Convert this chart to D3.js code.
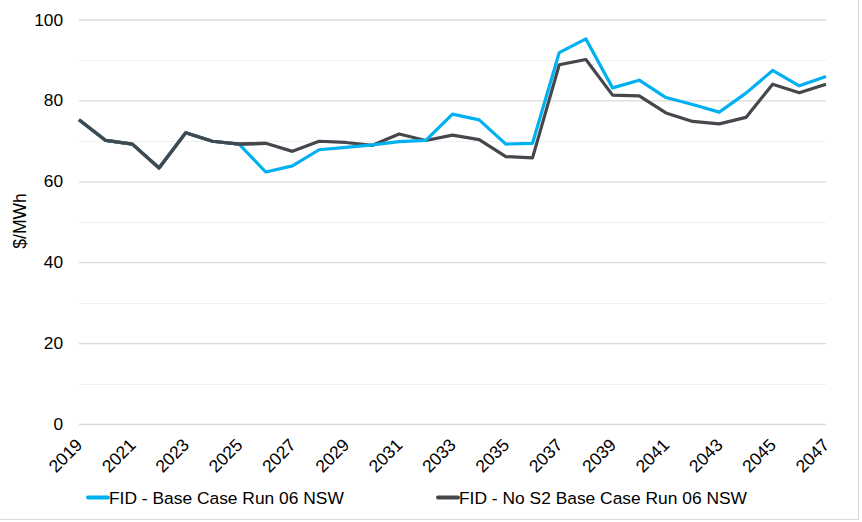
<!DOCTYPE html>
<html><head><meta charset="utf-8">
<script src="https://cdn.jsdelivr.net/npm/d3@7"></script>
<style>
html,body{margin:0;padding:0;background:#fff;}
svg{display:block;font-family:"Liberation Sans",Arial,sans-serif;}
</style></head>
<body><svg id="c" width="862" height="522"></svg>
<script>
const years = d3.range(2019, 2048);
const tickYears = [2019,2021,2023,2025,2027,2029,2031,2033,2035,2037,2039,2041,2043,2045,2047];
const yTicks = [0,20,40,60,80,100];
const seriesNames = ["FID - Base Case Run 06 NSW","FID - No S2 Base Case Run 06 NSW"];
const baseCase = [75.2,70.1,69.2,63.3,72.0,69.9,69.2,62.3,63.8,67.8,68.4,69.0,69.8,70.1,76.6,75.2,69.2,69.4,91.8,95.2,83.1,85.0,80.7,79.0,77.1,81.8,87.4,83.6,85.9];
const noS2Case = [75.2,70.1,69.2,63.3,72.0,69.9,69.2,69.4,67.4,69.9,69.6,68.9,71.7,70.1,71.4,70.3,66.1,65.8,88.8,90.1,81.3,81.1,76.9,74.8,74.2,75.8,84.0,81.9,84.0];
const colors = ["#00b0f0","#44474b"];

const svg = d3.select("#c");
const x = d3.scaleLinear().domain([2019,2047]).range([79,826]);
const y = d3.scaleLinear().domain([0,100]).range([424,19.5]);

// border
svg.append("line").attr("x1",858.5).attr("x2",858.5).attr("y1",0).attr("y2",519.5).attr("stroke","#d9d9d9");
svg.append("line").attr("x1",0).attr("x2",858.5).attr("y1",519.5).attr("y2",519.5).attr("stroke","#d9d9d9");

// minor gridlines
svg.append("g").selectAll("line").data(d3.range(10,100,20)).join("line")
  .attr("x1",79).attr("x2",826).attr("y1",d=>Math.round(y(d))+0.5).attr("y2",d=>Math.round(y(d))+0.5)
  .attr("stroke","#efefef").attr("stroke-width",1);

// y axis with major gridlines
const yAxis = svg.append("g").attr("transform","translate(79,0)")
  .call(d3.axisLeft(y).tickValues(yTicks).tickSize(-747).tickPadding(16).tickFormat(d3.format("d")));
yAxis.select(".domain").remove();
yAxis.selectAll(".tick line").attr("stroke","#d9d9d9").attr("stroke-width",1.3);
yAxis.selectAll(".tick text").attr("font-size",17.3).attr("fill","#000").attr("font-family","Liberation Sans, Arial, sans-serif");

// x axis labels
const xAxis = svg.append("g").attr("transform","translate(0,424)")
  .call(d3.axisBottom(x).tickValues(tickYears).tickSize(0).tickFormat(d3.format("d")));
xAxis.select(".domain").remove();
xAxis.selectAll(".tick text")
  .attr("font-size",17.5).attr("fill","#000").attr("font-family","Liberation Sans, Arial, sans-serif")
  .attr("text-anchor","end").attr("dy",null).attr("y",0)
  .attr("transform","translate(4,22) rotate(-45)");

// y title
svg.append("text").attr("transform","translate(26,221) rotate(-90)")
  .attr("text-anchor","middle").attr("font-size",17.5).attr("fill","#000").text("$/MWh");

// lines
const line = d3.line().x((d,i)=>x(years[i])).y(d=>y(d));
svg.append("path").datum(noS2Case).attr("d",line).attr("fill","none")
  .attr("stroke",colors[1]).attr("stroke-width",3.2).attr("stroke-linejoin","round");
svg.append("path").datum(baseCase).attr("d",line).attr("fill","none")
  .attr("stroke",colors[0]).attr("stroke-width",3.2).attr("stroke-linejoin","round");
// dark drawn on top where the two series coincide
svg.append("path").datum(noS2Case.slice(0,8)).attr("d",line).attr("fill","none")
  .attr("stroke",colors[1]).attr("stroke-width",3.2).attr("stroke-linejoin","round");

// legend
const legX = [88,438];
seriesNames.forEach((n,i)=>{
  svg.append("line").attr("x1",legX[i]).attr("x2",legX[i]+20).attr("y1",497.5).attr("y2",497.5)
    .attr("stroke",colors[i]).attr("stroke-width",4).attr("stroke-linecap","round");
  svg.append("text").attr("x",legX[i]+21).attr("y",504).attr("font-size",17.4).attr("fill","#000").text(n);
});
</script></body></html>
